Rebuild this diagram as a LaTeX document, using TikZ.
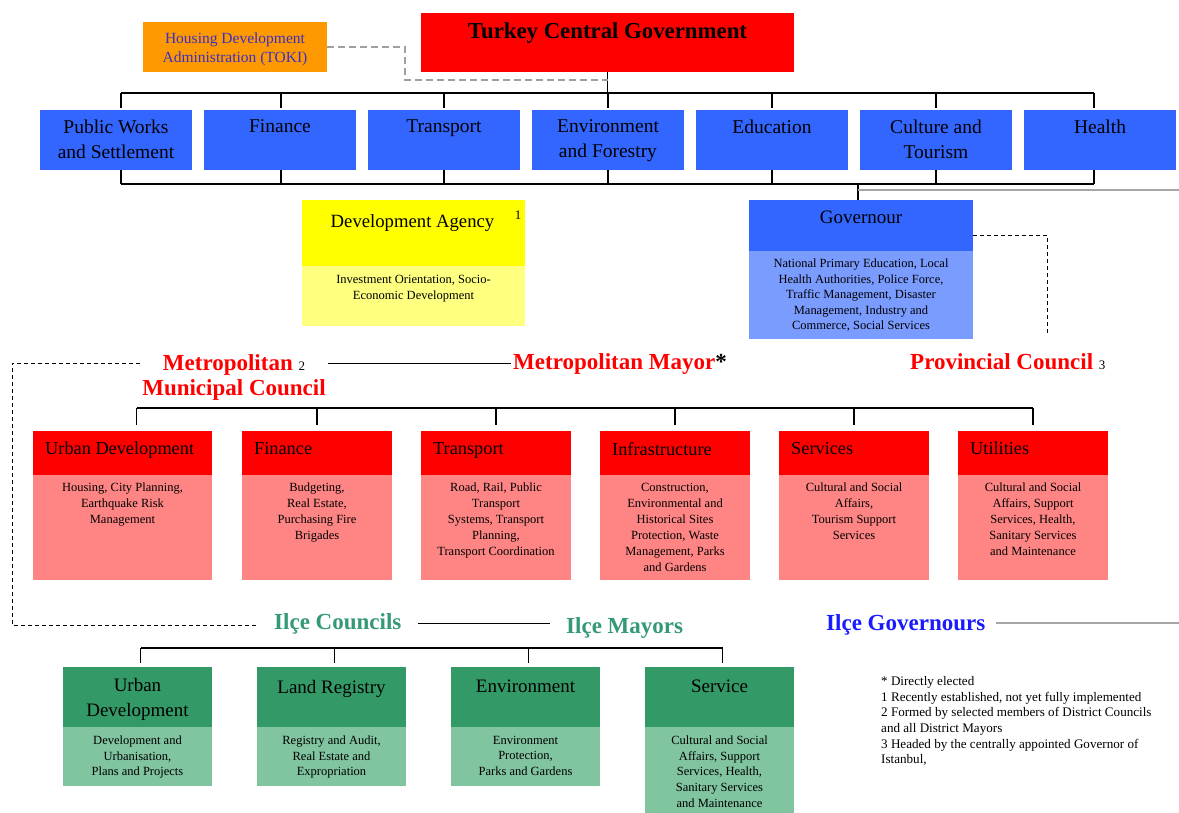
\documentclass[tikz,border=0pt]{standalone}
\usepackage{fontspec}
\setmainfont{Liberation Serif}
\usetikzlibrary{calc}
\definecolor{minblue}{HTML}{3366FF}
\definecolor{govlight}{HTML}{7B9CFF}
\definecolor{metred}{HTML}{FF0000}
\definecolor{metlight}{HTML}{FF8585}
\definecolor{ilgreen}{HTML}{339966}
\definecolor{illight}{HTML}{80C4A0}
\definecolor{dayellow}{HTML}{FFFF00}
\definecolor{dalight}{HTML}{FFFF80}
\definecolor{tokiorange}{HTML}{FF9900}
\definecolor{tokitext}{HTML}{3A2FC8}
\definecolor{ilcetext}{HTML}{339977}
\definecolor{govtext}{HTML}{1A1AFF}
\newcommand{\fsz}[2]{\fontsize{#1}{#2}\selectfont}
\newcommand{\fnum}{\normalfont\fontsize{13}{13}\selectfont}
\begin{document}
\begin{tikzpicture}[x=1pt,y=-1pt,
  fbox/.style={anchor=north west,inner sep=0pt,outer sep=0pt,draw=none},
  txt/.style={anchor=north,inner sep=0pt,outer sep=0pt,align=center},
  conn/.style={draw=black,line width=1.1pt},
  dsh/.style={draw=black,line width=1pt,dash pattern=on 4pt off 3pt},
  gdsh/.style={draw=gray!75,line width=1.4pt,dash pattern=on 7pt off 4pt},
  ministry/.style={fbox,fill=minblue,minimum width=152pt,minimum height=60pt},
  mintxt/.style={txt,font=\fsz{19.5}{25}},
  mhead/.style={fbox,fill=metred,minimum width=150pt,minimum height=44pt},
  mbody/.style={fbox,fill=metlight,minimum width=150pt,minimum height=105pt},
  mhtxt/.style={anchor=north west,inner sep=0pt,font=\fsz{18.3}{22}},
  smalltxt/.style={txt,font=\fsz{12.5}{16}},
  ghead/.style={fbox,fill=ilgreen,minimum width=149pt,minimum height=60pt},
  gbody/.style={fbox,fill=illight,minimum width=149pt,minimum height=59pt},
  gtxt/.style={txt,font=\fsz{19}{25}},
  bigred/.style={inner ysep=0pt,inner xsep=2pt,text=metred,font=\bfseries\fsz{23}{25}},
  ilcelbl/.style={inner ysep=0pt,inner xsep=16pt,font=\bfseries\fsz{23}{25}},
  footnum/.style={text=black,font=\fnum}
]
\useasboundingbox (0,0) rectangle (1179,813);

% ---------- Top level ----------
\node[fbox,fill=metred,minimum width=373pt,minimum height=59pt] (cg) at (421,13) {};
\node[txt,font=\bfseries\fsz{22.8}{25}] (cgt) at ($(cg.north)+(0,9.5)$) {Turkey Central Government};
\node[fbox,fill=tokiorange,minimum width=184pt,minimum height=50pt] (toki) at (143,22) {};
\node[txt,text=tokitext,font=\fsz{15.5}{19}] (tokit) at ($(toki.north)+(0,10.5)$) {Housing Development\\Administration (TOKI)};

% ministries
\node[ministry] (m1) at (40,110) {};
\node[ministry] (m2) at (204,110) {};
\node[ministry] (m3) at (368,110) {};
\node[ministry] (m4) at (532,110) {};
\node[ministry] (m5) at (696,110) {};
\node[ministry] (m6) at (860,110) {};
\node[ministry] (m7) at (1024,110) {};
\node[mintxt] (m1t) at ($(m1.north)+(0,10)$) {Public Works\\and Settlement};
\node[mintxt] (m2t) at ($(m2.north)+(0,10)$) {Finance};
\node[mintxt] (m3t) at ($(m3.north)+(0,10)$) {Transport};
\node[mintxt] (m4t) at ($(m4.north)+(0,10)$) {Environment\\and Forestry};
\node[mintxt] (m5t) at ($(m5.north)+(0,10)$) {Education};
\node[mintxt] (m6t) at ($(m6.north)+(0,10)$) {Culture and\\Tourism};
\node[mintxt] (m7t) at ($(m7.north)+(0,10)$) {Health};

\coordinate (tbus) at (0,93);
\coordinate (bbus) at (0,184);
\draw[conn] ([xshift=5pt]m1.north |- tbus) -- ([xshift=-6pt]m7.north |- tbus);
\draw[conn] (cg.south) -- (cg.south |- tbus);
\foreach \m/\dx in {m1/5,m2/1,m3/0,m4/0,m5/0,m6/0,m7/-6}{
  \draw[conn] ([xshift=\dx pt]\m.north |- tbus) -- ([xshift=\dx pt,yshift=2pt]\m.north);
  \draw[conn] ([xshift=\dx pt]\m.south) -- ([xshift=\dx pt]\m.south |- bbus);
}
\draw[conn] ([xshift=5pt]m1.south |- bbus) -- ([xshift=-6pt]m7.south |- bbus);

% TOKI dashed link
\coordinate (tk) at (405,80);
\draw[gdsh] (toki.east) -| (tk) -- (tk -| cg.south);

% ---------- Development Agency ----------
\node[fbox,fill=dayellow,minimum width=223pt,minimum height=66pt] (dah) at (302,200) {};
\node[fbox,fill=dalight,minimum width=223pt,minimum height=60pt] (dab) at (302,266) {};
\node[txt,font=\fsz{18.7}{22}] (daht) at ($(dah.north)+(-1,15)$) {Development Agency};
\node[txt,footnum] (dan) at (518,210.5) {1};
\node[smalltxt] (dabt) at ($(dab.north)+(0,9.6)$) {Investment Orientation, Socio-\\Economic Development};

% ---------- Governour ----------
\node[fbox,fill=minblue,minimum width=224pt,minimum height=51pt] (govh) at (749,200) {};
\node[fbox,fill=govlight,minimum width=224pt,minimum height=88pt] (govb) at (749,251) {};
\node[txt,font=\fsz{19}{22}] (govht) at ($(govh.north)+(0,11)$) {Governour};
\node[txt,font=\fsz{12.5}{15.5}] (govbt) at ($(govb.north)+(0,8)$) {National Primary Education, Local\\Health Authorities, Police Force,\\Traffic Management, Disaster\\Management, Industry and\\Commerce, Social Services};
\draw[conn] ([xshift=-3pt]govh.north) -- ([xshift=-3pt]govh.north |- bbus);
\coordinate (grayR) at (1179,190);
\draw[draw=gray!70,line width=1.1pt] ([xshift=-3pt]govh.north |- grayR) -- (grayR);

% ---------- Metropolitan level ----------
\node[bigred,anchor=north,align=center] (metc) at (234,354) {Metropolitan {\fnum\color{black}2}\\Municipal Council};
\node[bigred,anchor=base west] (mayor) at (511,369) {Metropolitan Mayor{\color{black}*}};
\node[bigred,anchor=base west] (prov) at (908,369) {Provincial Council {\fnum\color{black}3}};
\draw[conn] (metc.east |- mayor.west) -- (mayor.west);
\coordinate (pcTop) at (1047,335);
\draw[dsh] ([yshift=-10pt]govh.east) -| (pcTop);

\node[mhead,minimum width=179pt] (mh1) at (33,431) {};
\node[mbody,minimum width=179pt] (mb1) at (33,475) {};
\node[mhead] (mh2) at (242,431) {};
\node[mbody] (mb2) at (242,475) {};
\node[mhead] (mh3) at (421,431) {};
\node[mbody] (mb3) at (421,475) {};
\node[mhead] (mh4) at (600,431) {};
\node[mbody] (mb4) at (600,475) {};
\node[mhead] (mh5) at (779,431) {};
\node[mbody] (mb5) at (779,475) {};
\node[mhead] (mh6) at (958,431) {};
\node[mbody] (mb6) at (958,475) {};

\node[mhtxt] (mh1t) at ($(mh1.north west)+(12,11)$) {Urban Development};
\node[mhtxt] (mh2t) at ($(mh2.north west)+(12,11)$) {Finance};
\node[mhtxt] (mh3t) at ($(mh3.north west)+(12,11)$) {Transport};
\node[mhtxt] (mh4t) at ($(mh4.north west)+(12,11)$) {Infrastructure};
\node[mhtxt] (mh5t) at ($(mh5.north west)+(12,11)$) {Services};
\node[mhtxt] (mh6t) at ($(mh6.north west)+(12,11)$) {Utilities};

\node[smalltxt] (mb1t) at ($(mb1.north)+(0,8)$) {Housing, City Planning,\\Earthquake Risk\\Management};
\node[smalltxt] (mb2t) at ($(mb2.north)+(0,8)$) {Budgeting,\\Real Estate,\\Purchasing Fire\\Brigades};
\node[smalltxt] (mb3t) at ($(mb3.north)+(0,8)$) {Road, Rail, Public\\Transport\\Systems, Transport\\Planning,\\Transport Coordination};
\node[smalltxt] (mb4t) at ($(mb4.north)+(0,8)$) {Construction,\\Environmental and\\Historical Sites\\Protection, Waste\\Management, Parks\\and Gardens};
\node[smalltxt] (mb5t) at ($(mb5.north)+(0,8)$) {Cultural and Social\\Affairs,\\Tourism Support\\Services};
\node[smalltxt] (mb6t) at ($(mb6.north)+(0,8)$) {Cultural and Social\\Affairs, Support\\Services, Health,\\Sanitary Services\\and Maintenance};

\coordinate (mbus) at (0,408);
\draw[conn] ([xshift=14pt]mh1.north |- mbus) -- (mh6.north |- mbus);
\draw[conn] ([xshift=14pt]mh1.north |- mbus) -- ([xshift=14pt,yshift=6pt]mh1.north);
\foreach \m in {mh2,mh3,mh4,mh5,mh6}{
  \draw[conn] (\m.north |- mbus) -- ([yshift=6pt]\m.north);
}

% ---------- Ilce level ----------
\node[ilcelbl,text=ilcetext,anchor=base west] (ilc) at (258,629) {Ilçe Councils};
\node[ilcelbl,text=ilcetext,anchor=base west] (ilm) at (550,633) {Ilçe Mayors};
\node[ilcelbl,text=govtext,inner xsep=11pt,anchor=base west] (ilg) at (815,630) {Ilçe Governours};
\draw[conn] (ilc.east) -- (ilc.east -| ilm.west);
\coordinate (edgeR) at (1179,623);
\draw[draw=gray!70,line width=1.1pt] (ilg.east |- edgeR) -- (edgeR);

\coordinate (dcorner) at (12,625);
\draw[dsh] (metc.west |- mayor.west) -| (dcorner) -- (dcorner -| ilc.west);

\node[ghead] (gh1) at (63,667) {};
\node[gbody] (gb1) at (63,727) {};
\node[ghead] (gh2) at (257,667) {};
\node[gbody] (gb2) at (257,727) {};
\node[ghead] (gh3) at (451,667) {};
\node[gbody] (gb3) at (451,727) {};
\node[ghead] (gh4) at (645,667) {};
\node[gbody,minimum height=86pt] (gb4) at (645,727) {};

\node[gtxt] (gh1t) at ($(gh1.north)+(0,11)$) {Urban\\Development};
\node[gtxt] (gh2t) at ($(gh2.north)+(0,13)$) {Land Registry};
\node[gtxt] (gh3t) at ($(gh3.north)+(0,13)$) {Environment};
\node[gtxt] (gh4t) at ($(gh4.north)+(0,13)$) {Service};

\node[smalltxt,font=\fsz{12.5}{15.6}] (gb1t) at ($(gb1.north)+(0,9)$) {Development and\\Urbanisation,\\Plans and Projects};
\node[smalltxt,font=\fsz{12.5}{15.6}] (gb2t) at ($(gb2.north)+(0,9)$) {Registry and Audit,\\Real Estate and\\Expropriation};
\node[smalltxt,font=\fsz{12.5}{15.6}] (gb3t) at ($(gb3.north)+(0,9)$) {Environment\\Protection,\\Parks and Gardens};
\node[smalltxt,font=\fsz{12.5}{15.6}] (gb4t) at ($(gb4.north)+(0,9)$) {Cultural and Social\\Affairs, Support\\Services, Health,\\Sanitary Services\\and Maintenance};

\coordinate (gbus) at (0,648);
\draw[conn] ([xshift=3pt]gh1.north |- gbus) -- ([xshift=3pt]gh4.north |- gbus);
\foreach \m in {gh1,gh2,gh3,gh4}{
  \draw[conn] ([xshift=3pt]\m.north |- gbus) -- ([xshift=3pt,yshift=4pt]\m.north);
}

% ---------- Notes ----------
\node[anchor=north west,inner sep=0pt,align=left,font=\fsz{13.1}{15.6}] (notes) at (881,676.5) {* Directly elected\\1 Recently established, not yet fully implemented\\2 Formed by selected members of District Councils\\and all District Mayors\\3 Headed by the centrally appointed Governor of\\Istanbul,};
\end{tikzpicture}
\end{document}
